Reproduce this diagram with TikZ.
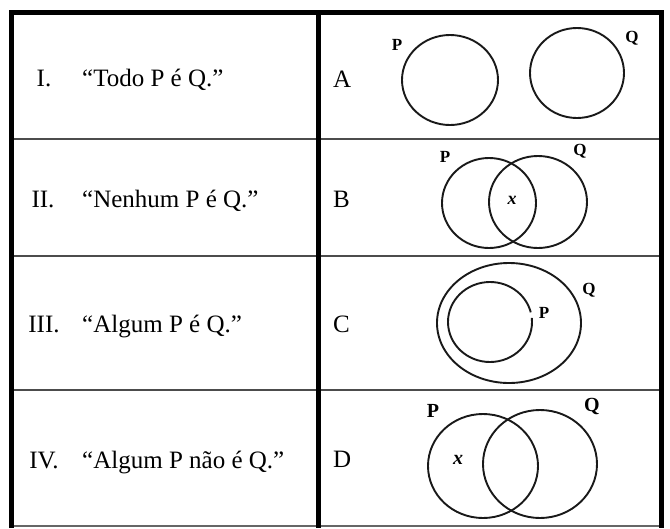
\documentclass[tikz,border=0pt]{standalone}
\usepackage{fontspec}
\setmainfont{Liberation Serif}
\tikzset{
  venn/.style={line width=1.9pt, black!90},
  rowline/.style={line width=1.3pt, black!70},
  frame/.style={line width=5pt},
  rowtext/.style={anchor=base west, inner sep=0pt, font=\fontsize{25}{28}\selectfont},
  numtext/.style={anchor=base, inner sep=0pt, font=\fontsize{25}{28}\selectfont},
  setlbl/.style={inner sep=0pt, font=\fontsize{17}{19}\selectfont\bfseries},
  biglbl/.style={inner sep=0pt, font=\fontsize{20}{22}\selectfont\bfseries},
  elem/.style={inner sep=0pt, font=\fontsize{18}{20}\selectfont\bfseries\itshape},
}
\begin{document}
\begin{tikzpicture}[x=1pt,y=-1pt]
\useasboundingbox (0,0) rectangle (670,528);
\fill[white] (0,0) rectangle (670,528);
\draw[rowline] (11,139) -- (661,139);
\draw[rowline] (11,256) -- (661,256);
\draw[rowline] (11,390) -- (661,390);
\draw[line width=1.2pt, black!60] (11,526) -- (661,526);
\draw[frame] (11,528) -- (11,12) -- (661,12) -- (661,528);
\draw[frame] (318,12) -- (318,528);
% left column
\node[numtext] (n1) at (44,86) {I.};
\node[numtext] (n2) at (43,207) {II.};
\node[numtext] (n3) at (44,332) {III.};
\node[numtext] (n4) at (44,468) {IV.};
\node[rowtext] (s1) at (82,86) {“Todo P é Q.”};
\node[rowtext] (s2) at (82,207) {“Nenhum P é Q.”};
\node[rowtext] (s3) at (82,332) {“Algum P é Q.”};
\node[rowtext] (s4) at (82,468) {“Algum P não é Q.”};
% right column
\node[rowtext] (la) at (333,87) {A};
\node[rowtext] (lb) at (333,207) {B};
\node[rowtext] (lc) at (333,332) {C};
\node[rowtext] (ld) at (333,467) {D};
% A
\draw[venn] (450,80) ellipse [x radius=48, y radius=45];
\draw[venn] (577,73) ellipse [x radius=47, y radius=45];
\node[setlbl] (pa) at (397,45) {P};
\node[setlbl] (qa) at (632,38) {Q};
% B
\draw[venn] (489,203) ellipse [x radius=47, y radius=45];
\draw[venn] (538,202) ellipse [x radius=49, y radius=46];
\node[setlbl] (pb) at (445,157) {P};
\node[setlbl] (qb) at (580,151) {Q};
\node[elem] (xb) at (512,200) {x};
% C
\draw[venn] (509,323) ellipse [x radius=72, y radius=60];
\draw[venn] ([shift={(-6:42 and 40)}]490,322) arc [start angle=-6, end angle=346, x radius=42, y radius=40];
\node[setlbl] (pc) at (544,313) {P};
\node[setlbl] (qc) at (589,290) {Q};
% D
\draw[venn] (483,466) ellipse [x radius=55, y radius=52];
\draw[venn] (540,464) ellipse [x radius=57, y radius=54];
\node[biglbl] (pd) at (433,411) {P};
\node[biglbl] (qd) at (592,406) {Q};
\node[elem, font=\fontsize{20}{22}\selectfont\bfseries\itshape] (xd) at (458,460) {x};
\end{tikzpicture}
\end{document}
